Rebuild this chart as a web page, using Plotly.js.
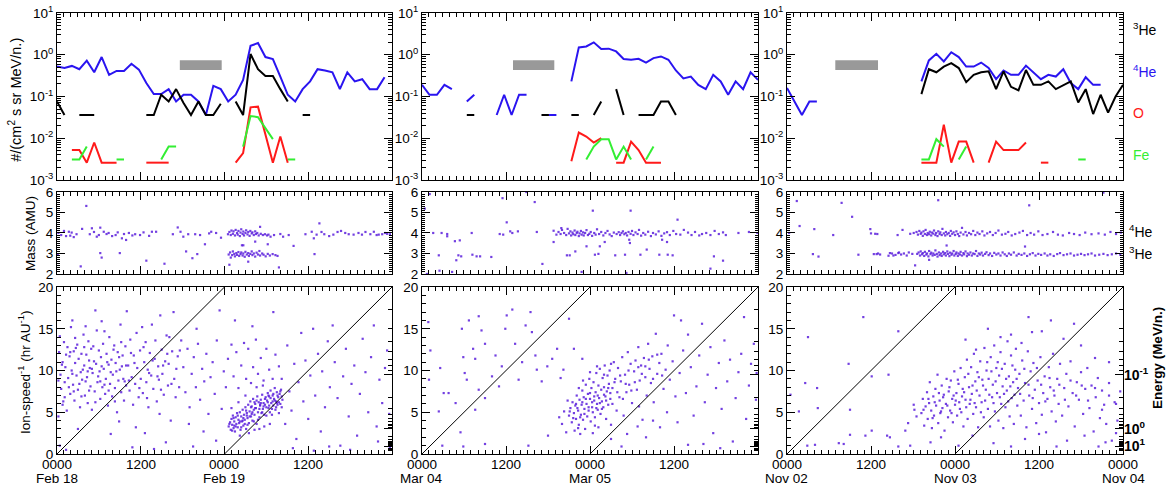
<!DOCTYPE html>
<html><head><meta charset="utf-8">
<script src="https://cdn.plot.ly/plotly-3.0.1.min.js"></script>
<style>html,body{margin:0;padding:0;background:#fff}#chart{width:1168px;height:485px}</style>
</head><body><div id="chart"></div>
<script>
const gap = n => Array(n).fill(null);

// ---------- Intensity time series (bins of 48/45 h), #/(cm2 s sr MeV/n.) ----------
const he4Feb = [0.52,0.48,0.54,0.45,0.72,0.38,0.88,0.33,0.41,0.41, 0.61,0.44,0.21,0.114,0.114,0.15,0.076,0.11,0.11,0.076,
  0.036,0.18,0.15,0.076,0.11,0.25,1.64,1.9,0.88,0.79, 0.30,0.11,0.076,0.15,0.23,0.45,0.42,0.38,0.15,0.38, 0.23,0.26,0.15,0.15,0.29,null];
const he3Feb = [0.076,0.036,null,0.036,0.036,0.036,null,null,null,null, null,null,0.036,0.036,0.11,0.076,0.15,0.07,0.036,0.076,
  0.036,0.036,0.067,null,0.076,0.036,1.04,0.45,0.31,0.31, 0.15,0.076,null,0.036,0.036, ...gap(11)];
const oFeb = [null,null,0.0052,0.0052,0.0026,0.0079,0.0026,0.0026,0.0026,null, null,null,0.0026,0.0026,0.0026,0.0026,null,null,null,null,
  null,null,null,null,0.0026,0.0044,0.055,0.057,0.0123,0.0026, 0.011,0.0026, ...gap(14)];
const feFeb = [null,null,0.0031,0.0031,0.0063,null,null,null,0.0031,0.0031, null,null,null,null,0.0031,0.0063,0.0063,null,null,null,
  null,null,null,null,null,0.0063,0.034,0.032,0.017,0.0095, null,0.0031,0.0031, ...gap(13)];

const he4Mar = [0.19,0.11,0.11,0.19,0.15,null,0.076,0.11,null,null, 0.036,0.11,0.036,0.11,0.11,null,null,0.036,0.036,null,
  0.23,1.5,1.58,1.98,1.37,1.4,1.2,0.79,0.76,0.8, 0.65,0.83,0.91,0.76,0.42,0.27,0.30,0.19,0.15,0.33, 0.23,0.11,0.23,0.15,0.38,0.25];
const he3Mar = [...gap(6),0.036,0.036,null,null, ...gap(6),0.036,0.036,null,null,
  0.036,0.036,null,0.036,0.076,null,0.15,0.036,null,0.036, 0.036,0.036,0.076,0.076,0.036, ...gap(11)];
const oMar = [...gap(20), 0.0028,0.0137,0.011,0.0079,0.010,null,0.0026,0.0026,0.0083,0.0052, 0.0026,0.0026,0.0026, ...gap(13)];
const feMar = [...gap(22), 0.0031,0.0063,0.0095,0.0095,0.0031,0.0063,0.0031,null,0.0031,0.0063, ...gap(14)];

const he4Nov = [0.16,0.076,0.036,0.076,0.076, ...gap(13),
  0.23,0.73,1.05,0.69,1.15,0.88,0.52,0.52,0.65,0.48,0.26,0.42,0.33,0.33,0.55,0.38,0.26,0.33,0.30,0.45,0.21,0.15,0.29,0.19,0.19, ...gap(3)];
const he3Nov = [...gap(18),
  0.114,0.45,0.38,0.52,0.63,0.48,0.22,0.33,0.38,0.40,0.15,0.40,0.17,0.14,0.43,0.19,0.19,0.23,0.15,0.19,0.23,0.072,0.15,0.038,0.11,0.041,0.10,0.19];
const oNov = [...gap(18), 0.0026,0.0026,0.0026,0.021,0.0026,0.0083,0.0083,0.0026,null,0.0026,0.0083,0.0052,0.0052,0.0052,0.0079,null,0.0026,0.0026, ...gap(10)];
const feNov = [...gap(18), 0.0031,0.0031,0.0095,0.0063,null,0.0031,0.0063, ...gap(14), 0.0031,0.0031, ...gap(5)];

// ---------- shaded interval in top panels (hours) ----------
const shadeStart = [17.6, 13.0, 6.9];
const shadeEnd = [23.6, 18.9, 13.0];
const shadeLow = 2.7, shadeHigh = 5.5;

// ---------- Mass vs time [hour, AMU] ----------
const massFeb = [[0.1,2.94],[0.2,4.0],[0.6,3.9],[1.0,4.1],[1.3,3.85],[1.7,4.06],[1.9,3.87],[2.1,4.02],[2.4,3.8],[2.8,3.94],[3.4,2.37],[3.6,4.2],[4.2,5.32],[4.7,3.94],[5.0,4.23],[5.3,4.05],[5.7,3.82],[6.0,3.9],[6.2,4.26],[6.2,3.02],[6.4,2.8],[6.7,4.06],[7.1,3.95],[7.4,4.0],[7.9,3.85],[8.4,3.9],[8.7,4.03],[9.0,3.02],[9.3,3.74],[9.6,3.95],[9.9,3.66],[10.3,4.0],[10.8,3.88],[11.2,3.94],[11.9,3.9],[12.4,4.03],[12.8,2.65],[13.2,3.86],[13.6,4.06],[14.2,4.06],[15.4,2.5],[16.6,3.94],[17.3,4.27],[17.7,4.06],[18.1,3.82],[18.5,3.1],[18.8,3.94],[19.4,2.77],[19.8,3.94],[20.1,2.97],[20.5,3.9],[21.2,3.45],[21.8,3.98],[22.1,4.06],[22.8,4.0],[23.5,3.77],[24.5,3.94],
 [24.7,4.05],[24.9,3.9],[25.0,4.12],[25.2,3.96],[25.3,4.08],[25.5,3.88],[25.6,4.15],[25.8,4.0],[25.9,3.92],[26.0,4.1],[26.2,3.85],[26.3,4.02],[26.4,4.18],[26.6,3.95],[26.7,4.07],[26.8,3.88],[27.0,4.0],[27.1,4.13],[27.3,3.93],[27.4,4.05],[27.6,3.86],[27.7,4.1],[27.9,3.98],[28.0,4.03],[28.2,3.9],[28.4,4.08],[28.5,3.95],[28.7,4.0],[28.9,3.88],[29.1,4.3],[29.2,3.96],[29.5,3.9],[29.8,3.94],[30.1,3.88],[30.3,3.92],
 [24.6,2.95],[24.8,3.05],[24.9,2.8],[25.1,2.92],[25.2,3.1],[25.4,2.98],[25.5,2.86],[25.7,3.02],[25.8,2.93],[26.0,3.07],[26.1,2.88],[26.3,2.97],[26.4,3.05],[26.6,2.9],[26.7,3.0],[26.9,2.84],[27.0,3.08],[27.2,2.95],[27.4,3.02],[27.5,2.88],[27.7,2.98],[27.9,3.1],[28.0,2.92],[28.2,3.0],[28.4,2.85],[28.6,3.04],[28.8,2.95],[29.0,3.12],[29.1,2.9],[29.4,3.0],[29.6,2.94],[29.9,2.86],[30.2,2.98],[30.5,2.9],[30.9,2.97],[31.3,2.92],[31.6,2.88],[31.8,2.32],[26.5,3.4],[27.4,2.6],[28.4,3.58],[30.2,3.45],[24.7,2.45],[26.7,3.4],
 [30.6,3.82],[31.1,3.9],[32.0,3.95],[32.4,3.82],[33.2,3.9],[33.9,3.37],[35.6,3.94],[36.5,4.06],[36.8,3.74],[36.9,2.97],[37.2,3.92],[37.6,4.47],[37.9,4.05],[38.3,3.94],[39.0,3.85],[39.6,3.92],[40.2,4.05],[40.7,4.1],[41.3,4.0],[41.8,3.94],[42.5,3.92],[43.2,4.0],[43.7,3.92],[44.2,4.05],[44.9,3.94],[45.4,4.06],[45.8,3.9],[46.1,3.92],[46.6,3.94],[47.0,4.0],[47.3,3.96],[47.7,3.94]];

const massMar = [[0.4,5.19],[0.7,2.0],[1.1,5.9],[1.6,4.0],[2.4,2.91],[2.5,2.16],[2.8,4.0],[3.6,3.95],[3.6,3.84],[4.3,2.1],[4.7,3.6],[4.9,2.67],[5.2,2.91],[5.4,3.64],[5.6,2.86],[7.1,4.0],[7.2,2.94],[7.8,2.86],[8.3,2.86],[9.9,2.83],[11.1,3.95],[11.5,5.7],[11.6,3.92],[12.1,4.52],[12.6,4.08],[12.9,4.0],[13.7,4.08],[14.9,6.0],[16.1,5.51],[16.4,4.05],[17.2,2.49],[18.8,4.11],[18.8,3.56],[19.2,3.92],[19.9,4.24],[20.7,2.91],[21.1,2.91],[21.9,3.1],[22.8,2.1],[23.5,3.35],[24.4,5.09],[24.7,2.94],[25.2,2.98],[25.4,3.35],[26.1,3.56],[27.6,2.91],[29.0,2.94],[29.2,2.05],[29.6,3.67],[29.7,3.51],[29.8,5.09],[31.2,2.94],[32.1,3.19],[33.9,2.94],[34.3,3.67],[35.0,3.56],[35.1,2.94],[35.8,2.91],[36.5,4.65],[41.2,2.26],[41.7,2.86],[43.0,2.65],[45.2,4.0],[46.7,4.05],[47.9,4.0],
 [19.5,4.05],[19.8,3.95],[20.0,4.15],[20.3,4.0],[20.6,3.9],[20.8,4.2],[21.0,3.98],[21.2,4.08],[21.3,3.88],[21.5,4.02],[21.6,3.94],[21.8,4.12],[21.9,3.9],[22.1,4.0],[22.2,4.06],[22.4,3.85],[22.5,3.98],[22.7,4.1],[22.8,3.92],[23.0,4.03],[23.1,3.88],[23.3,4.0],[23.5,4.14],[23.7,3.9],[23.9,3.96],[24.1,4.05],[24.3,3.86],[24.6,4.0],[24.8,3.92],[25.0,4.18],[25.3,3.95],[25.6,4.05],[25.9,3.88],[26.2,4.0],[26.5,4.1],[26.8,3.93],[27.1,3.85],[27.4,4.02],[27.8,3.95],[28.1,4.04],[28.3,3.9],[28.5,4.0],[28.7,4.08],[28.9,3.94],[29.1,4.0],[29.3,3.88],[29.5,4.05],[29.8,3.96],[30.0,4.1],[30.2,3.9],[30.5,4.03],[30.8,3.95],[31.0,4.15],[31.3,3.87],[31.6,4.0],[31.9,3.92],[32.3,4.06],[32.7,3.85],[33.0,4.0],[33.4,3.93],[33.8,4.08],[34.2,3.86],[34.6,3.98],[35.0,4.04],[35.4,3.9],[35.9,4.1],[36.3,3.95],[36.9,3.92],[37.4,4.15],[38.0,4.02],[38.5,3.9],[39.0,4.05],[39.6,3.88],[40.0,3.95],[40.6,4.0],[41.2,3.9],[41.8,4.1],[42.4,3.95],[43.0,4.03],[43.4,3.9]];

const massNov = [[0.3,4.0],[1.4,5.56],[1.8,4.34],[3.7,2.97],[3.9,4.19],[4.5,2.85],[6.6,3.9],[7.8,5.47],[9.3,4.79],[10.2,2.94],[11.9,4.19],[12.0,3.98],[12.4,2.97],[12.6,3.96],[12.8,2.97],[12.9,3.95],[13.3,2.95],[14.5,2.89],[14.7,3.02],[15.0,3.0],[15.5,2.93],[15.8,3.9],[15.9,3.02],[16.3,2.95],[16.5,4.15],[16.7,3.0],[17.1,2.9],[17.4,3.05],[17.6,3.96],[17.9,2.98],[18.1,4.0],[18.3,2.42],[21.6,5.6],[34.6,5.35],[45.2,5.97],[20.3,2.69],[22.8,3.39],[34.0,3.34],
 [18.5,4.05],[18.7,3.92],[18.9,4.1],[19.1,3.96],[19.2,4.02],[19.4,3.86],[19.5,4.08],[19.7,3.95],[19.8,4.15],[20.0,3.9],[20.1,4.0],[20.3,3.94],[20.4,4.06],[20.6,3.88],[20.7,4.02],[20.9,3.97],[21.0,4.12],[21.2,3.9],[21.3,4.0],[21.5,3.85],[21.6,4.08],[21.8,3.95],[21.9,4.03],[22.1,3.9],[22.2,4.2],[22.4,3.98],[22.6,3.88],[22.7,4.05],[22.9,3.94],[23.1,4.0],[23.3,3.86],[23.4,4.1],[23.6,3.96],[23.8,4.03],[24.0,3.9],[24.2,4.08],[24.4,3.95],[24.6,3.85],[24.8,4.02],[25.0,4.25],[25.2,3.93],[25.5,4.05],[25.7,3.88],[26.0,4.0],[26.3,3.94],[26.6,4.1],[26.9,3.9],[27.2,4.02],[27.5,3.95],[27.9,4.08],[28.2,3.88],[28.6,3.98],[29.0,4.05],[29.4,3.9],[29.8,4.0],[30.2,4.12],[30.7,3.92],[31.2,3.96],[31.6,4.05],[32.1,3.88],[32.6,3.95],[33.2,4.02],[33.7,4.1],[34.3,3.9],[34.8,4.0],[35.3,3.92],[35.9,4.08],[36.5,3.9],[37.2,3.95],[38.0,4.05],[38.7,3.92],[39.4,3.88],[40.3,4.0],[41.0,3.95],[41.8,3.9],[42.6,4.02],[43.5,3.94],[44.5,3.98],[45.4,3.92],[46.2,4.05],[47.0,3.95],[47.7,4.02],
 [18.6,2.98],[18.8,3.05],[19.0,2.9],[19.1,3.1],[19.3,2.96],[19.4,3.02],[19.6,2.88],[19.7,3.08],[19.9,2.95],[20.0,3.0],[20.2,2.86],[20.3,3.12],[20.5,2.97],[20.6,3.04],[20.8,2.9],[20.9,3.0],[21.1,2.93],[21.2,3.15],[21.4,2.98],[21.5,2.85],[21.7,3.05],[21.8,2.92],[22.0,3.0],[22.1,2.88],[22.3,3.08],[22.4,2.96],[22.6,3.02],[22.7,2.9],[22.9,3.1],[23.0,2.98],[23.2,2.87],[23.3,3.04],[23.5,2.94],[23.6,3.0],[23.8,3.12],[23.9,2.9],[24.1,2.98],[24.2,3.05],[24.4,2.88],[24.5,3.0],[24.7,2.95],[24.8,3.08],[25.0,2.9],[25.2,3.02],[25.3,2.96],[25.5,3.1],[25.7,2.87],[25.8,3.0],[26.0,2.94],[26.2,3.05],[26.4,2.9],[26.6,3.0],[26.8,2.97],[27.0,3.12],[27.2,2.88],[27.4,3.0],[27.6,2.95],[27.8,3.04],[28.0,2.9],[28.3,2.98],[28.5,3.06],[28.8,2.92],[29.0,3.0],[29.3,2.88],[29.6,3.03],[29.9,2.95],[30.2,3.0],[30.5,2.9],[30.8,3.05],[31.1,2.96],[31.4,2.88],[31.7,3.0],[32.0,2.94],[32.4,3.05],[32.8,2.9],[33.1,2.98],[33.5,2.93],[33.9,3.0],[34.3,2.88],[34.7,2.96],[35.1,3.02],[35.5,2.9],[35.9,2.98],[36.3,2.93],[36.8,3.0],[37.2,2.9],[37.6,2.96],[38.1,2.88],[38.6,2.97],[39.0,3.02],[39.5,2.92],[40.0,2.96],[40.5,3.0],[41.0,2.9],[41.5,2.94],[42.0,2.98],[42.5,2.92],[43.0,2.96],[43.5,3.0],[44.0,2.9],[44.6,2.94],[45.2,2.98],[45.8,2.92],[46.4,2.96],[47.0,3.0],[47.6,2.94],[15.2,2.9],[16.0,3.05],[13.0,3.0]];

// ---------- Ion-speed^-1 vs time [hour, hr/AU] ----------
const tofFeb = [[0.3,12.2],[0.5,9.5],[0.6,7.8],[0.8,11.0],[1.0,13.4],[1.1,8.6],[1.2,10.4],[1.4,5.2],[1.5,12.8],[1.6,9.1],[1.8,11.7],[1.9,7.2],[2.0,15.2],[2.1,10.0],[2.3,8.3],[2.4,12.3],[2.5,6.4],[2.6,10.9],[2.8,9.4],[2.9,13.1],[3.0,7.7],[3.1,11.4],[3.3,5.6],[3.4,9.8],[3.5,12.0],[3.6,8.9],[3.8,14.3],[3.9,10.6],[4.0,7.0],[4.2,11.9],[4.3,9.2],[4.4,6.1],[4.5,13.5],[4.7,10.3],[4.8,8.1],[4.9,12.6],[5.0,5.3],[5.1,9.7],[5.3,11.1],[5.4,7.5],[5.5,17.2],[5.6,10.8],[5.7,14.8],[5.8,8.6],[6.0,12.4],[6.1,9.9],[6.2,6.6],[6.3,11.6],[6.5,8.0],[6.6,13.2],[6.7,10.2],[6.9,7.2],[7.0,9.0],[7.1,12.0],[7.3,5.8],[7.4,10.7],[7.5,14.0],[7.6,8.4],[7.8,11.3],[7.9,6.9],[8.0,9.5],[8.2,13.0],[8.3,7.9],[8.4,10.9],[8.6,5.0],[8.7,12.2],[8.8,8.8],[9.0,10.1],[9.1,15.5],[9.2,7.4],[9.4,11.8],[9.5,9.0],[9.6,6.4],[9.8,12.9],[9.9,8.2],[10.0,17.1],[0.2,4.5],[0.4,1.0],[1.3,0.5],[3.0,3.0],[2.2,16.0],[6.4,15.9],[4.1,15.3],[8.9,3.9],[7.7,2.4],
 [0.2,8.8],[0.7,10.7],[0.9,6.3],[1.3,11.9],[1.7,8.0],[2.2,9.6],[2.7,12.7],[3.2,8.4],[3.7,10.1],[4.1,8.7],[4.6,11.2],[5.2,12.9],[5.9,9.3],[6.4,10.5],[6.8,8.3],[7.2,11.0],[7.7,9.8],[8.1,12.5],[8.5,9.9],[9.3,10.5],[9.7,8.7],[0.4,14.1],[1.1,6.8],[2.6,13.9],[3.5,6.9],[4.6,7.6],[5.5,6.2],[6.8,14.7],[8.3,6.3],[9.2,13.4],[0.8,5.9],[1.9,12.2],[3.9,12.8],[5.0,10.2],[6.2,8.7],[7.4,7.6],[8.9,11.6],[9.9,10.6],[2.4,7.5],[4.4,9.9],
 [10.2,10.6],[10.4,7.6],[10.5,13.7],[10.7,9.2],[10.9,5.9],[11.0,11.8],[11.2,8.4],[11.4,14.5],[11.5,10.3],[11.7,6.8],[11.9,12.4],[12.0,9.0],[12.2,15.2],[12.3,7.3],[12.5,11.0],[12.7,13.4],[12.8,8.6],[13.0,10.1],[13.1,5.6],[13.3,12.1],[13.5,9.4],[13.6,15.5],[13.8,7.8],[14.0,11.4],[14.1,13.6],[14.3,6.3],[14.5,10.5],[14.6,8.9],[14.8,16.6],[15.0,12.5],[15.1,9.6],[15.3,7.1],[15.5,11.1],[15.7,14.2],[15.9,8.2],[16.0,10.8],[16.3,4.0],[16.5,12.3],[16.7,17.0],[16.8,9.0],[17.0,6.8],[17.3,11.7],[17.5,8.0],[17.8,13.6],[11.3,3.2],[14.7,4.8],[13.9,0.6],[12.6,2.5],[15.6,1.4],[10.8,0.8],
 [10.3,8.8],[11.1,10.9],[11.8,7.9],[12.4,12.8],[13.2,9.7],[13.7,11.2],[14.4,9.3],[15.2,10.6],[15.8,12.0],[16.4,8.4],[17.1,10.2],[17.6,12.4],[10.6,12.1],[12.9,6.7],[14.9,7.7],[16.1,14.0],
 [18.1,10.4],[18.4,7.4],[18.7,12.6],[19.0,5.6],[19.3,9.6],[19.6,11.6],[19.9,8.0],[20.2,13.2],[20.5,6.5],[20.8,10.2],[21.1,8.7],[21.4,12.0],[21.7,4.8],[22.0,9.2],[22.3,11.0],[22.6,7.2],[22.9,13.6],[23.3,17.2],[23.6,5.4],[23.9,9.9],[24.2,8.0],[19.5,0.9],[21.0,2.7],[22.8,1.6],[20.0,15.0],[18.9,3.6],
 [24.5,11.4],[25.0,13.1],[25.3,9.3],[25.7,12.2],[26.0,7.9],[26.4,10.6],[26.8,13.3],[27.1,9.0],[27.4,12.6],[27.8,8.5],[28.1,10.4],[28.5,13.7],[28.8,9.6],[29.2,11.5],[29.6,8.8],[30.0,12.6],[30.4,10.1],[30.9,9.0],[31.3,11.9],[31.8,10.5],[32.2,9.0],[31.0,17.0],[28.0,15.3],[25.5,16.0],
 [24.6,3.3],[24.8,3.8],[24.9,2.9],[25.0,4.2],[25.1,3.5],[25.2,4.6],[25.3,3.1],[25.4,3.9],[25.5,2.7],[25.6,4.4],[25.7,3.6],[25.8,4.9],[25.9,3.2],[26.0,4.1],[26.1,3.7],[26.2,5.0],[26.3,2.9],[26.4,4.5],[26.5,3.9],[26.6,5.3],[26.7,3.4],[26.8,4.7],[26.9,4.1],[27.0,5.6],[27.1,3.0],[27.2,4.9],[27.3,4.3],[27.4,5.9],[27.5,3.7],
 [27.6,5.1],[27.7,6.3],[27.8,4.5],[27.9,5.7],[28.0,4.0],[28.1,6.6],[28.2,5.3],[28.3,4.7],[28.4,6.0],[28.5,5.5],[28.6,3.6],[28.7,6.9],[28.8,5.0],[28.9,6.2],[29.0,4.4],[29.1,5.8],[29.2,6.5],[29.3,4.9],[29.4,7.1],[29.5,5.4],[29.6,6.1],[29.7,3.3],[29.8,5.9],[29.9,6.8],[30.0,4.6],
 [30.1,6.4],[30.2,7.3],[30.3,5.5],[30.4,6.9],[30.5,5.0],[30.6,7.6],[30.7,6.1],[30.8,4.7],[30.9,7.0],[31.0,5.8],[31.1,6.6],[31.2,7.9],[31.3,5.3],[31.4,6.3],[31.5,7.4],[31.6,5.9],[31.7,6.8],[31.8,4.9],[31.9,7.2],[32.0,6.0],[32.1,7.7],[32.2,5.6],[32.3,6.5],
 [26.2,2.2],[27.5,2.5],[28.3,2.9],[29.0,3.0],[30.5,3.6],[25.0,5.5],[26.0,6.2],[27.0,7.0],[28.6,8.0],[29.5,8.2],
 [24.7,3.6],[25.1,2.8],[25.3,4.3],[25.6,3.3],[25.9,4.6],[26.2,3.9],[26.4,3.2],[26.7,4.3],[26.9,3.6],[27.1,5.2],[27.3,3.5],[27.6,4.5],[27.8,5.6],[28.0,5.0],[28.2,3.9],[28.4,5.5],[28.6,6.4],[28.8,4.1],[29.0,5.4],[29.2,6.1],[29.4,5.0],[29.6,5.7],[29.8,6.6],[30.0,5.6],[30.2,6.2],[30.4,5.8],[30.6,6.7],[30.8,5.4],[31.0,7.2],[31.2,6.4],[31.4,5.6],[31.6,7.0],[31.8,6.2],[32.0,7.5],[32.2,6.9],[27.2,4.6],[28.3,6.2],[29.7,4.7],[30.9,6.3],[25.4,3.4],[26.6,4.0],[27.9,4.8],[29.1,5.9],[30.3,7.0],[31.5,6.1],
 [32.7,3.6],[33.0,13.0],[33.3,7.5],[33.6,5.2],[34.0,10.8],[34.3,1.8],[34.6,8.6],[35.0,14.5],[35.3,6.3],[35.6,11.2],[36.0,4.2],[36.3,9.4],[36.7,15.0],[37.0,7.0],[37.4,12.0],[37.8,2.7],[38.0,9.9],[38.4,5.6],[38.8,13.5],[39.1,8.0],[39.5,15.4],[39.8,11.0],[40.2,6.7],[40.6,1.0],[41.0,9.3],[41.4,12.6],[41.8,4.5],[42.2,8.4],[42.6,10.6],[43.0,2.2],[43.4,7.2],[43.8,13.8],[44.2,9.8],[44.6,5.0],[45.0,11.6],[45.4,15.4],[45.8,3.3],[46.2,8.9],[46.6,6.1],[47.0,10.3],[47.3,12.4],[47.7,0.8],[33.8,0.7],[36.8,0.4],[39.0,0.9],[42.0,0.5],[46.0,1.5],[47.6,4.8]];

const tofMar = [[1.0,8.9],[0.9,15.8],[1.2,12.4],[2.6,10.3],[2.4,5.1],[3.1,7.3],[3.8,7.3],[5.7,15.0],[5.9,11.6],[6.1,9.7],[6.4,8.9],[6.7,16.0],[7.3,12.6],[7.6,11.4],[8.1,16.5],[8.5,14.8],[9.0,13.2],[8.1,7.7],[9.0,6.7],[10.0,9.3],[10.5,11.8],[11.0,8.1],[11.4,10.5],[11.9,15.0],[12.1,16.6],[12.9,17.3],[13.3,13.2],[13.8,8.9],[14.3,11.0],[14.8,15.4],[15.5,17.0],[15.7,14.6],[16.2,11.8],[16.4,10.1],[17.1,8.7],[17.9,10.5],[18.6,11.4],[19.3,12.6],[19.8,9.1],[20.2,10.1],[21.0,16.2],[21.7,12.6],[22.9,11.4],[2.9,1.0],[5.9,0.9],[5.5,2.6],[9.0,1.2],[15.2,1.0],[18.0,2.2],[7.6,5.3],[4.8,6.1],
 [21.0,4.6],[21.2,5.5],[21.4,3.8],[21.5,6.2],[21.7,4.9],[21.9,5.8],[22.0,4.2],[22.1,7.0],[22.3,5.2],[22.4,3.5],[22.5,6.5],[22.7,4.7],[22.8,5.9],[22.9,7.6],[23.0,4.1],[23.1,6.8],[23.2,5.4],[23.4,8.3],[23.5,6.0],[23.6,4.5],[23.7,7.2],[23.8,5.6],[23.9,9.0],[24.0,6.6],[24.1,3.9],[24.2,7.9],[24.3,6.2],[24.4,5.0],[24.5,8.6],[24.6,6.9],[24.7,4.4],[24.8,7.4],[24.9,9.7],[25.0,6.0],[25.1,5.3],[25.2,8.2],[25.3,6.7],[25.4,10.2],[25.5,4.8],[25.6,7.7],[25.7,6.3],[25.8,9.1],[25.9,5.6],[26.0,8.0],[26.1,10.6],[26.2,6.9],[26.3,4.2],[26.4,7.5],[26.5,9.4],[26.6,5.9],[26.7,8.4],[26.8,10.0],[26.9,6.6],[27.0,3.5],
 [21.1,5.1],[21.6,4.3],[22.0,6.0],[22.2,5.5],[22.6,4.4],[22.9,6.2],[23.2,4.8],[23.4,6.6],[23.8,5.2],[24.0,7.3],[24.3,5.6],[24.6,6.4],[24.9,5.5],[25.1,7.0],[25.4,6.1],[25.7,5.4],[26.0,7.1],[26.3,6.4],[26.6,7.9],[26.9,7.3],[27.2,6.0],[27.5,8.6],[27.9,7.4],[28.3,9.4],[28.7,6.6],[29.1,8.4],[29.5,10.0],[29.9,7.6],[30.4,8.6],[30.9,10.4],[31.4,9.6],[31.9,10.5],[32.4,11.3],[33.0,9.0],[33.6,11.9],[34.3,9.4],[22.4,7.9],[23.0,8.8],[24.0,9.8],[25.0,10.5],[26.0,9.5],[27.0,10.8],[22.3,3.1],[24.7,3.4],
 [19.6,4.4],[20.0,3.6],[20.3,5.1],[20.6,2.6],[20.8,6.4],[21.8,2.8],[22.6,2.4],[23.3,3.0],[24.4,2.5],[25.2,3.2],[27.2,7.9],[27.4,11.0],[27.6,9.0],[27.8,5.2],[28.0,10.3],[28.2,6.8],[28.4,8.7],[28.6,11.6],[28.8,4.6],[29.0,9.5],[29.2,7.4],[29.4,12.2],[29.6,8.3],[29.8,10.8],[30.0,6.1],[30.3,9.9],[30.5,11.2],[30.7,7.7],[30.9,12.8],[31.1,8.8],[31.3,10.6],[31.5,4.1],[31.7,11.5],[31.9,9.2],[32.1,7.0],[32.3,13.2],[32.5,10.2],[32.7,8.5],[32.9,11.7],[33.1,6.2],[33.4,14.4],[33.6,9.6],[33.9,10.9],[34.2,12.0],[34.5,7.8],[34.8,10.1],[35.1,13.0],[35.4,8.9],[35.8,11.1],[36.2,6.9],[27.0,1.8],[28.5,0.9],[29.3,2.4],[30.8,3.3],[32.0,2.0],[33.0,4.0],[34.0,3.2],[31.0,5.7],[35.0,5.0],[36.5,3.8],
 [36.8,9.7],[37.0,16.0],[37.3,12.4],[37.7,7.3],[38.0,14.3],[38.4,10.4],[38.8,4.6],[39.2,8.1],[39.6,11.8],[40.0,15.6],[40.4,6.2],[40.8,9.5],[41.2,12.8],[41.6,2.5],[42.0,7.9],[42.4,10.9],[42.8,5.4],[43.2,13.6],[43.6,8.7],[44.0,11.3],[44.4,1.5],[44.8,6.7],[45.2,9.8],[45.6,12.0],[46.0,16.4],[46.3,4.2],[46.7,8.2],[47.0,10.8],[47.4,13.2],[47.7,6.5],[47.8,9.7],[38.0,1.1],[42.6,0.7],[36.0,16.6],[40.2,1.2]];

const tofNov = [[0.5,7.1],[1.7,5.1],[2.6,8.5],[3.0,14.0],[4.3,7.9],[4.4,5.5],[2.9,1.0],[4.0,1.1],[7.4,1.3],[8.1,1.2],[8.8,10.8],[9.0,5.3],[9.0,2.3],[10.9,16.4],[11.2,2.2],[12.1,2.8],[12.1,9.3],[14.5,9.5],[14.3,2.2],[14.7,2.0],[15.9,14.7],[15.9,0.9],[16.9,2.8],[17.3,3.7],[17.6,1.0],[18.1,5.9],[18.2,5.3],[18.5,4.5],
 [19.2,4.9],[19.4,6.6],[19.6,3.4],[19.8,5.7],[20.0,7.4],[20.1,4.2],[20.3,6.1],[20.4,8.6],[20.6,5.2],[20.7,3.1],[20.9,6.9],[21.0,4.6],[21.2,7.8],[21.3,5.8],[21.5,9.5],[21.6,3.7],[21.8,6.4],[21.9,4.9],[22.1,8.2],[22.2,5.5],[22.4,7.1],[22.5,2.8],[22.7,6.0],[22.8,9.0],[23.0,4.4],[23.1,7.5],[23.3,5.2],[23.4,8.8],[23.6,6.6],[23.7,3.8],[23.9,9.9],[24.0,5.9],[24.2,7.3],[24.3,4.6],[24.5,8.4],[24.6,6.2],[24.8,10.3],[24.9,5.0],[25.1,7.8],[25.2,3.3],[25.4,9.2],[25.5,6.5],[25.7,11.3],[25.8,4.2],[26.0,8.0],
 [19.5,5.3],[20.2,6.6],[20.8,4.3],[21.1,6.2],[21.7,7.3],[22.0,5.1],[22.3,6.8],[22.9,5.8],[23.2,8.0],[23.5,4.9],[23.8,7.0],[24.1,6.4],[24.4,8.9],[24.7,5.4],[25.0,6.9],[25.3,7.4],[25.6,5.6],[25.9,9.6],[26.2,6.5],[26.5,8.2],[26.8,6.1],[27.1,7.6],[27.4,9.2],[27.7,5.0],[28.0,8.2],[28.3,6.4],[28.6,11.0],[28.9,7.1],[29.2,9.9],[29.5,6.1],[29.8,8.7],[30.1,11.0],[30.4,6.8],[30.7,10.2],[31.0,7.2],[31.3,9.0],[31.6,6.3],[31.9,8.1],[32.2,10.6],[32.5,7.1],[32.8,9.0],[33.3,7.2],[33.9,10.2],[34.5,8.3],[35.1,6.7],[35.7,10.3],[36.3,8.3],[36.9,6.3],[37.5,9.1],[38.1,7.6],[38.9,8.3],[39.7,6.5],[40.5,8.8],[41.3,7.0],[42.1,8.2],[43.0,6.4],[44.0,7.9],[45.0,5.3],[46.0,7.0],[47.0,6.0],
 [26.1,6.0],[26.3,10.4],[26.4,7.2],[26.6,4.8],[26.7,12.0],[26.9,8.7],[27.0,5.6],[27.2,9.8],[27.3,3.2],[27.5,7.0],[27.6,11.1],[27.8,6.2],[27.9,8.9],[28.1,4.4],[28.2,12.7],[28.4,7.7],[28.5,10.0],[28.7,5.4],[28.8,9.0],[29.0,3.3],[29.1,11.6],[29.3,6.8],[29.4,8.3],[29.6,13.0],[29.7,5.1],[29.9,10.3],[30.0,7.3],[30.2,4.0],[30.3,9.4],[30.5,12.2],[30.6,6.0],[30.8,8.1],[30.9,3.1],[31.1,10.8],[31.2,5.6],[31.4,7.6],[31.5,13.5],[31.7,9.3],[31.8,4.5],[32.0,11.8],[32.1,6.7],[32.3,8.6],[32.4,3.6],[32.6,10.1],[32.7,12.6],[32.9,5.8],[33.0,7.9],
 [33.2,9.6],[33.4,4.6],[33.6,11.2],[33.8,6.4],[34.0,8.5],[34.2,3.2],[34.4,12.3],[34.6,7.0],[34.8,9.9],[35.0,5.4],[35.2,10.9],[35.4,7.7],[35.6,3.7],[35.8,8.8],[36.0,6.1],[36.2,11.6],[36.4,4.7],[36.6,7.3],[36.8,9.3],[37.0,2.6],[37.2,6.6],[37.4,10.4],[37.6,8.0],[37.8,5.1],[38.0,12.0],[38.2,7.0],[38.4,3.9],[38.6,9.0],[38.8,6.0],[39.0,10.8],[39.3,4.6],[39.6,7.9],[39.9,9.6],[40.2,5.7],[40.5,11.1],[40.8,7.3],[41.1,3.3],[41.4,8.6],[41.7,6.5],[42.0,9.8],[42.3,4.8],[42.6,7.8],[42.9,10.3],[43.2,5.5],[43.5,8.2],[43.8,2.7],[44.1,6.8],[44.4,9.1],[44.7,4.3],[45.0,7.6],[45.3,5.9],[45.6,3.6],[46.0,8.5],[46.4,1.6],[46.8,6.2],[47.2,4.0],[47.6,7.5],
 [25.5,13.7],[28.7,15.0],[30.5,14.0],[32.0,14.3],[34.5,16.4],[35.0,14.6],[36.4,14.7],[37.7,16.0],[39.5,13.8],[41.0,15.6],[33.5,13.3],[27.0,12.5],[42.0,13.0],[44.0,11.5],[46.0,11.0],
 [20.5,1.4],[22.0,2.0],[24.5,1.0],[26.5,2.2],[29.5,1.3],[32.0,0.9],[34.0,1.8],[36.0,2.4],[38.5,0.9],[40.0,1.6],[42.5,2.2],[44.5,0.9],[45.5,1.4],[47.0,2.5]];

// ---------- tick labels ----------
const tickHours = [0, 12, 24, 36, 48];
const timeFeb = ['0000','1200','0000','1200',''];
const dateFeb = ['Feb 18','','Feb 19','',''];
const timeMar = ['0000','1200','0000','1200',''];
const dateMar = ['Mar 04','','Mar 05','',''];
const timeNov = ['0000','1200','0000','1200','0000'];
const dateNov = ['Nov 02','','Nov 03','','Nov 04'];
const energyMajor = [0.1, 1, 10];
const energyMinor = [0.03,0.04,0.05,0.06,0.07,0.08,0.09,0.2,0.3,0.4,0.5,0.6,0.7,0.8,0.9,2,3,4,5,6,7,8,9,20,30,40,50];
const diagStartHours = [0, 24];
const pathLengthAU = 1.2;

// ---------- build ----------
const binHours = 48/45;
const AU_km = 1.496e8, c_km = 299792.458, mp = 938.272;
const kE = 0.5 * mp * Math.pow(AU_km/3600/c_km, 2); // E(MeV/n) = kE / s^2, s in hr/AU
const sOf = E => Math.sqrt(kE / E);

const cols = [
  {he3:he3Feb, he4:he4Feb, o:oFeb, fe:feFeb, mass:massFeb, tof:tofFeb, time:timeFeb, date:dateFeb},
  {he3:he3Mar, he4:he4Mar, o:oMar, fe:feMar, mass:massMar, tof:tofMar, time:timeMar, date:dateMar},
  {he3:he3Nov, he4:he4Nov, o:oNov, fe:feNov, mass:massNov, tof:tofNov, time:timeNov, date:dateNov}
];
const colX = [[0.0488,0.3356],[0.3613,0.6490],[0.6738,0.9615]];
const rowY = [[0.6289,0.9732],[0.4351,0.6041],[0.0639,0.4082]];
const FONT = 'Liberation Sans, Arial, Helvetica, sans-serif';
const colors = {he3:'#000000', he4:'#2a14f0', o:'#ff1a1a', fe:'#33ee33'};
const dotColor = 'rgba(90,30,220,0.85)';

const base = {showline:true, linecolor:'#000', linewidth:1, ticks:'inside', tickcolor:'#000', tickwidth:1,
  showgrid:false, zeroline:false, fixedrange:true, tickfont:{family:FONT, size:13.5, color:'#000'}};

const minorLog = [];
for (let d=-3; d<1; d++) for (let m=2; m<=9; m++) minorLog.push(m*Math.pow(10,d));

const traces = [];
const layout = {width:1168, height:485, margin:{l:0,r:0,t:0,b:0}, showlegend:false,
  paper_bgcolor:'#fff', plot_bgcolor:'#fff', font:{family:FONT, color:'#000'}, shapes:[], annotations:[]};

const ann = (text, x, y, opts) => Object.assign({text, x, y, xref:'paper', yref:'paper', showarrow:false,
  xanchor:'center', yanchor:'middle', font:{family:FONT, size:13.5, color:'#000'}}, opts||{});

cols.forEach((col, c) => {
  for (let r=0; r<3; r++) {
    const k = c*3 + r + 1;
    layout['xaxis'+k] = Object.assign({}, base, {domain:colX[c], anchor:'y'+k, range:[0,48],
      tickmode:'array', tickvals:tickHours, ticklen:8, mirror:'ticks', showticklabels:false,
      minor:{tickmode:'linear', tick0:0, dtick:1, ticklen:4, ticks:'inside', tickcolor:'#000'}});
  }
  const kT = c*3+1, kM = c*3+2, kB = c*3+3;
  layout['yaxis'+kT] = Object.assign({}, base, {domain:rowY[0], anchor:'x'+kT, type:'log', range:[-3,1],
    tickmode:'array', tickvals:[0.001,0.01,0.1,1,10],
    ticktext:['10<sup>-3</sup>','10<sup>-2</sup>','10<sup>-1</sup>','10<sup>0</sup>','10<sup>1</sup>'],
    ticklen:8, mirror:'ticks', minor:{tickmode:'array', tickvals:minorLog, ticklen:4, ticks:'inside', tickcolor:'#000'}});
  layout['yaxis'+kM] = Object.assign({}, base, {domain:rowY[1], anchor:'x'+kM, range:[2,6],
    tickmode:'linear', tick0:2, dtick:1, ticklen:8, mirror:'ticks',
    minor:{tickmode:'linear', tick0:2, dtick:0.1, ticklen:3, ticks:'inside', tickcolor:'#000'}});
  layout['yaxis'+kB] = Object.assign({}, base, {domain:rowY[2], anchor:'x'+kB, range:[0,20],
    tickmode:'linear', tick0:0, dtick:5, ticklen:8, mirror:true,
    minor:{tickmode:'linear', tick0:0, dtick:1, ticklen:4, ticks:'inside', tickcolor:'#000'}});
  const kE2 = 10 + c;
  layout['yaxis'+kE2] = Object.assign({}, base, {showline:false, overlaying:'y'+kB, anchor:'x'+kB, side:'right', range:[0,20],
    tickmode:'array', tickvals:energyMajor.map(sOf),
    ticktext:energyMajor.map(e => '<b>10<sup>'+Math.round(Math.log10(e))+'</sup></b>'),
    showticklabels: c===2, ticklen:8, tickfont:{family:FONT, size:14, color:'#000'},
    minor:{tickmode:'array', tickvals:energyMinor.map(sOf), ticklen:4, ticks:'inside', tickcolor:'#000'}});

  // x tick labels (time + date)
  tickHours.forEach((h, i) => {
    if (col.time[i]) layout.annotations.push(ann(col.time[i], 0, 0.0425, {x:h, xref:'x'+kB}));
    if (col.date[i]) layout.annotations.push(ann(col.date[i], 0, 0.0134, {x:h, xref:'x'+kB}));
  });

  // intensity lines
  const hrs = col.he4.map((_, i) => i*binHours);
  ['he4','he3','o','fe'].forEach(sp => {
    traces.push({type:'scatter', mode:'lines', x:hrs, y:col[sp], xaxis:'x'+kT, yaxis:'y'+kT,
      line:{color:colors[sp], width:2}, connectgaps:false, hoverinfo:'skip'});
  });
  layout.shapes.push({type:'rect', xref:'x'+kT, yref:'y'+kT, x0:shadeStart[c], x1:shadeEnd[c],
    y0:Math.log10(shadeLow), y1:Math.log10(shadeHigh), fillcolor:'#999999', line:{width:0}});
  traces.push({type:'scatter', mode:'markers', x:col.mass.map(p=>p[0]), y:col.mass.map(p=>p[1]),
    xaxis:'x'+kM, yaxis:'y'+kM, marker:{symbol:'square', size:2.2, color:dotColor}, hoverinfo:'skip'});
  traces.push({type:'scatter', mode:'markers', x:col.tof.map(p=>p[0]), y:col.tof.map(p=>p[1]),
    xaxis:'x'+kB, yaxis:'y'+kB, marker:{symbol:'square', size:2.2, color:dotColor}, hoverinfo:'skip'});
  const dx = [], dy = [];
  diagStartHours.forEach(t0 => { dx.push(t0, t0 + pathLengthAU*20, null); dy.push(0, 20, null); });
  traces.push({type:'scatter', mode:'lines', x:dx, y:dy, xaxis:'x'+kB, yaxis:'y'+kE2,
    line:{color:'#000', width:1}, hoverinfo:'skip'});
});

layout.annotations.push(
  ann('#/(cm<sup>2</sup> s sr MeV/n.)', 0.0128, 0.794, {textangle:-90, font:{family:FONT, size:14.5, color:'#000'}}),
  ann('Mass (AMU)', 0.0265, 0.5196, {textangle:-90}),
  ann('Ion-speed<sup>-1</sup> (hr AU<sup>-1</sup>)', 0.0205, 0.233, {textangle:-90}),
  ann('<b>Energy (MeV/n.)</b>', 0.9914, 0.262, {textangle:-90}),
  ann('<sup>3</sup>He', 0.9683, 0.940, {xanchor:'left', font:{family:FONT, size:14, color:colors.he3}}),
  ann('<sup>4</sup>He', 0.9683, 0.854, {xanchor:'left', font:{family:FONT, size:14, color:colors.he4}}),
  ann('O', 0.9683, 0.767, {xanchor:'left', font:{family:FONT, size:14, color:colors.o}}),
  ann('Fe', 0.9683, 0.680, {xanchor:'left', font:{family:FONT, size:14, color:colors.fe}}),
  ann('<sup>4</sup>He', 0.965, 0.5237, {xanchor:'left', font:{family:FONT, size:14, color:'#000'}}),
  ann('<sup>3</sup>He', 0.965, 0.4784, {xanchor:'left', font:{family:FONT, size:14, color:'#000'}})
);

Plotly.newPlot('chart', traces, layout, {staticPlot:true, displayModeBar:false});
</script></body></html>
